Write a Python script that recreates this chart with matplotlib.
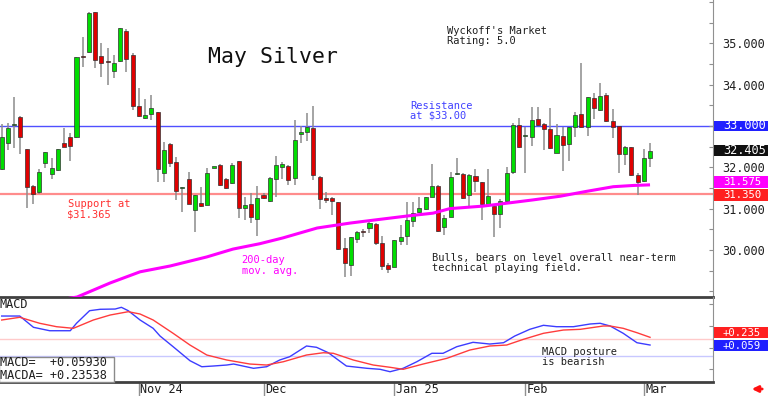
import numpy as np
import matplotlib
matplotlib.use("Agg")
import matplotlib.pyplot as plt
import matplotlib.transforms as mtrans
from matplotlib.patches import Rectangle

# daily OHLC, May silver, early Oct 2024 .. early Mar 2025
opens = [31.96, 32.59, 33.02, 33.22, 32.44, 31.55, 31.40, 32.10, 31.84, 31.93,
         32.59, 32.73, 32.73, 34.67, 34.79, 35.76, 34.69, 34.55, 34.33, 34.57,
         35.30, 34.72, 33.48, 33.19, 33.29, 33.34, 31.86, 32.56, 32.13, 31.50,
         31.72, 30.97, 31.14, 31.09, 31.99, 32.06, 31.72, 31.62, 32.15, 31.02,
         31.11, 30.75, 31.33, 31.18, 31.72, 32.01, 32.03, 31.74, 32.80, 32.85,
         32.95, 31.77, 31.24, 31.26, 31.16, 30.05, 29.64, 30.27, 30.45, 30.53,
         30.63, 30.17, 29.64, 29.59, 30.22, 30.34, 30.70, 30.92, 30.99, 31.28,
         31.55, 30.56, 30.80, 31.83, 31.84, 31.33, 31.79, 31.64, 31.11, 31.06,
         30.87, 31.18, 31.89, 33.02, 32.75, 32.73, 33.17, 33.05, 32.93, 32.35,
         32.76, 32.56, 32.97, 33.29, 32.97, 33.68, 33.39, 33.75, 33.12, 33.00,
         32.32, 32.49, 31.81, 31.67, 32.22]
highs = [33.05, 33.07, 33.70, 33.24, 32.45, 31.56, 31.96, 32.38, 32.22, 32.45,
         32.95, 32.83, 34.68, 35.15, 35.76, 35.77, 35.01, 34.89, 34.72, 35.38,
         35.35, 34.77, 33.92, 33.65, 33.75, 33.35, 32.61, 32.59, 32.25, 31.53,
         31.89, 31.34, 31.52, 31.98, 32.01, 32.07, 31.73, 32.10, 32.16, 31.28,
         31.38, 31.55, 31.38, 31.77, 32.27, 32.13, 32.06, 33.14, 33.00, 33.31,
         33.48, 31.78, 31.40, 31.27, 31.17, 30.29, 30.32, 30.45, 30.51, 30.68,
         30.64, 30.34, 29.69, 30.25, 30.60, 31.16, 31.16, 31.28, 31.29, 32.08,
         31.57, 30.85, 31.89, 32.22, 31.86, 31.84, 31.96, 31.65, 31.96, 31.11,
         31.23, 32.01, 33.07, 33.19, 32.98, 33.46, 33.46, 33.07, 33.43, 33.05,
         32.98, 32.98, 33.34, 34.52, 33.71, 33.80, 34.04, 33.80, 33.41, 33.01,
         32.52, 32.50, 31.86, 32.44, 32.59]
lows = [31.94, 32.42, 32.47, 32.32, 31.02, 31.11, 31.35, 31.98, 31.72, 31.91,
        32.48, 32.15, 32.72, 34.43, 34.77, 34.40, 34.18, 33.99, 34.16, 34.56,
        34.30, 33.39, 33.22, 33.17, 33.14, 31.64, 31.64, 32.01, 31.21, 30.92,
        31.10, 30.43, 31.05, 31.08, 31.98, 31.55, 31.47, 31.60, 30.77, 30.72,
        30.65, 30.34, 31.23, 31.16, 31.28, 31.72, 31.57, 31.57, 32.59, 32.64,
        31.69, 30.99, 31.14, 30.85, 30.00, 29.35, 29.37, 30.17, 30.31, 30.41,
        30.12, 29.52, 29.44, 29.58, 30.12, 30.12, 30.56, 30.89, 30.97, 31.27,
        30.43, 30.36, 30.79, 31.82, 31.23, 31.04, 31.40, 30.72, 31.09, 30.31,
        30.53, 31.17, 31.84, 32.47, 31.86, 32.52, 33.00, 32.42, 32.44, 32.34,
        31.91, 32.15, 32.73, 32.95, 32.76, 33.17, 33.36, 33.10, 32.71, 31.86,
        32.06, 31.79, 31.33, 31.64, 32.01]
closes = [32.73, 32.95, 33.05, 32.73, 31.52, 31.35, 31.89, 32.37, 31.98, 32.44,
          32.49, 32.52, 34.67, 34.66, 35.73, 34.60, 34.52, 34.54, 34.52, 35.37,
          34.62, 33.48, 33.23, 33.26, 33.43, 31.96, 32.42, 32.10, 31.43, 31.52,
          31.11, 31.33, 31.06, 31.86, 32.00, 31.57, 31.50, 32.06, 31.02, 31.09,
          30.80, 31.26, 31.26, 31.74, 32.06, 32.08, 31.69, 32.66, 32.85, 32.97,
          31.81, 31.23, 31.22, 31.18, 30.02, 29.68, 30.31, 30.44, 30.43, 30.65,
          30.17, 29.61, 29.54, 30.24, 30.31, 30.73, 30.89, 31.02, 31.28, 31.55,
          30.46, 30.77, 31.77, 31.84, 31.26, 31.81, 31.67, 31.11, 31.31, 30.87,
          31.18, 31.86, 33.02, 32.49, 32.76, 33.14, 33.02, 32.93, 32.47, 32.78,
          32.54, 32.97, 33.26, 32.97, 33.70, 33.43, 33.72, 33.12, 32.97, 32.32,
          32.49, 31.81, 31.64, 32.22, 32.405]

# 200-day moving average (read at these bar positions)
ma_idx = [0, 12.1, 17.4, 22.2, 27.0, 32.9, 37.1, 41.4, 45.1, 50.6, 55.9, 59.6,
          65.0, 69.2, 71.9, 77.2, 81.5, 85.2, 89.6, 93.9, 98.1, 101.3, 104]
ma_val = [28.55, 28.86, 29.20, 29.47, 29.61, 29.83, 30.02, 30.15, 30.29, 30.53,
          30.65, 30.72, 30.82, 30.89, 31.00, 31.06, 31.14, 31.21, 31.30, 31.42,
          31.53, 31.56, 31.575]

# MACD (blue) and its average MACDA (red)
macd_idx = [0, 2.9, 5.1, 7.7, 11.0, 12.0, 14.1, 15.8, 18.2, 19.2, 20.3, 22.2,
            24.3, 25.4, 27.5, 30.2, 32.1, 33.9, 36.1, 37.2, 40.4, 42.5, 44.6,
            46.2, 48.9, 50.5, 52.4, 55.3, 58.6, 60.7, 62.3, 64.4, 66.6, 69.0,
            70.8, 73.0, 75.6, 78.3, 80.5, 82.3, 84.7, 86.9, 89.0, 91.7, 94.4,
            96.0, 97.6, 99.7, 101.9, 104]
macd_val = [0.722, 0.722, 0.464, 0.386, 0.386, 0.556, 0.844, 0.876, 0.882,
            0.921, 0.844, 0.631, 0.441, 0.265, 0.021, -0.299, -0.437, -0.421,
            -0.398, -0.375, -0.473, -0.437, -0.283, -0.208, 0.037, 0.007,
            -0.117, -0.421, -0.473, -0.496, -0.551, -0.473, -0.322, -0.130,
            -0.130, 0.021, 0.121, 0.082, 0.112, 0.265, 0.418, 0.510, 0.478,
            0.478, 0.540, 0.556, 0.494, 0.327, 0.112, 0.05930]
sig_idx = [0, 2.9, 6.1, 8.8, 11.5, 14.7, 17.4, 20.3, 22.2, 24.3, 27.5, 30.2,
           32.9, 36.1, 39.8, 42.5, 45.2, 48.9, 51.6, 53.2, 56.4, 59.6, 62.3,
           64.4, 67.6, 71.4, 75.1, 78.3, 81.0, 83.7, 86.9, 90.1, 92.8, 96.5,
           97.6, 99.7, 101.9, 104]
sig_val = [0.631, 0.693, 0.556, 0.478, 0.441, 0.631, 0.745, 0.821, 0.768,
           0.631, 0.327, 0.059, -0.169, -0.283, -0.375, -0.398, -0.322, -0.169,
           -0.117, -0.130, -0.283, -0.398, -0.450, -0.496, -0.375, -0.245,
           -0.055, 0.037, 0.059, 0.190, 0.327, 0.402, 0.418, 0.494, 0.494,
           0.441, 0.341, 0.23538]

resistance = 33.00
support = 31.365
month_pos = [22, 42, 63, 84, 103]
month_lab = ["Nov 24", "Dec", "Jan 25", "Feb", "Mar"]

W, H = 768, 396
MONO = "DejaVu Sans Mono"
GREEN, RED = "#00dd00", "#e00000"

fig = plt.figure(figsize=(W / 100, H / 100), dpi=100)
ax = fig.add_axes([0, 99 / H, 713 / W, 297 / H])
ax2 = fig.add_axes([0, 14 / H, 713 / W, 85 / H], sharex=ax)

def ptext(x, y, s, **kw):
    # x, y in pixels from top-left of the image
    fig.text(x / W, 1 - y / H, s, family=MONO, va="center", ha="left", **kw)

# candles
o = np.array(opens); hi = np.array(highs); lo = np.array(lows); c = np.array(closes)
x = np.arange(len(o))
up = c >= o
ax.vlines(x, lo, hi, color="#8c8c8c", lw=1.1, zorder=2)
body_lo = np.minimum(o, c)
body_h = np.maximum(np.abs(c - o), 0.03)
ax.bar(x, body_h, bottom=body_lo, width=0.65, color=np.where(up, GREEN, RED),
       edgecolor="#303030", linewidth=0.5, zorder=3)

ax.axhline(resistance, color="#5050ff", lw=1, zorder=1)
ax.axhline(support, color="#ff8c8c", lw=1.6, zorder=1)
ax.plot(ma_idx, ma_val, color="#ff00ff", lw=2.2, zorder=4, solid_capstyle="butt")

ax.set_xlim(-0.27, 114.1)
ax.set_ylim(28.86, 36.05)

for a in (ax, ax2):
    a.spines["left"].set_visible(False)
    a.spines["top"].set_visible(False)
    a.spines["right"].set_color("#909090")
    a.spines["bottom"].set_color("#404040")
    a.spines["bottom"].set_linewidth(2)
    a.yaxis.tick_right()
    a.tick_params(axis="x", bottom=False, labelbottom=False)
    a.tick_params(axis="y", which="both", direction="in", color="#909090",
                  length=3, width=0.8)
    a.patch.set_alpha(0)

pt = [30, 31, 32, 33, 34, 35]
ax.set_yticks(pt)
ax.set_yticks(np.arange(29.0, 36.01, 0.5), minor=True)
ax.set_yticklabels(["" if v == 33 else f"{v:.3f}" for v in pt], family=MONO,
                   fontsize=8.6, color="#202020")
ax.tick_params(axis="y", pad=7)

# MACD panel
ax2.axhline(0.2, color="#ffcaca", lw=1)
ax2.axhline(-0.2, color="#c8c8ff", lw=1)
ax2.plot(macd_idx, macd_val, color="#3c3cff", lw=1)
ax2.plot(sig_idx, sig_val, color="#ff3c3c", lw=1)
ax2.set_ylim(-0.786, 1.157)
ax2.set_yticks([-0.5, 0, 0.5, 1.0])
ax2.set_yticklabels([])

# month labels in the strip under the MACD panel
bt = mtrans.blended_transform_factory(ax2.transData, ax2.transAxes)
for p, lab in zip(month_pos, month_lab):
    ax2.plot([p, p], [0, -0.165], color="#909090", lw=1, transform=bt, clip_on=False)
    ax2.text(p + 0.25, -0.086, lab, transform=bt, family=MONO, fontsize=8.6,
             va="center", ha="left", color="#202020", clip_on=False)

# value tags on the right
def tag(a, val, s, fc, hpx=10.6, dy=0.0, fs=8.6):
    # dy: pixel shift upward so that stacked tags do not collide
    lo_, hi_ = a.get_ylim()
    hpix = a.get_position().height * H
    k = (hi_ - lo_) / hpix
    h = hpx * k
    yc = val + dy * k
    tr = mtrans.blended_transform_factory(fig.transFigure, a.transData)
    a.add_patch(Rectangle((714 / W, yc - h / 2), 54 / W, h, transform=tr,
                          facecolor=fc, edgecolor="none", clip_on=False, zorder=10))
    a.text(723 / W, yc, s, transform=tr, family=MONO, fontsize=fs, color="white",
           va="center", ha="left", clip_on=False, zorder=11)

tag(ax, resistance, f"{resistance:.3f}", "#2020ff")
tag(ax, closes[-1], f"{closes[-1]:.3f}", "#101010")
tag(ax, ma_val[-1], f"{ma_val[-1]:.3f}", "#ff00ff", hpx=12, dy=2.4, fs=7.6)
tag(ax, support, "31.350", "#ff2020", hpx=12, dy=-1.2, fs=7.6)
tag(ax2, sig_val[-1], f"{sig_val[-1]:+.3f}", "#ff2020", hpx=11, dy=4.8, fs=7.6)
tag(ax2, macd_val[-1], f"{macd_val[-1]:+.3f}", "#2020ff", hpx=11, dy=-0.5, fs=7.6)

# MACD readout box
fig.add_artist(Rectangle((-1 / W, 1 - 382 / H), 115 / W, 25.5 / H,
                         transform=fig.transFigure, facecolor="white",
                         edgecolor="#8a8a8a", lw=1, zorder=5))
ptext(0, 362.7, f"MACD=  {macd_val[-1]:+.5f}", fontsize=8.6, color="#202020", zorder=6)
ptext(0, 375.3, f"MACDA= {sig_val[-1]:+.5f}", fontsize=8.6, color="#202020", zorder=6)
ptext(0, 305, "MACD", fontsize=8.6, color="#202020")

# annotations
fig.text(208 / W, 1 - 63 / H, "May Silver", family=MONO, fontsize=15.5,
         va="baseline", ha="left", color="#101010")
ptext(447, 31, "Wyckoff's Market", fontsize=7.5, color="#202020")
ptext(447, 41.5, "Rating: 5.0", fontsize=7.5, color="#202020")
ptext(410.5, 106, "Resistance", fontsize=7.5, color="#4040ff")
ptext(410.5, 116, "at $33.00", fontsize=7.5, color="#4040ff")
ptext(67.5, 204, "Support at", fontsize=7.5, color="#ff3030")
ptext(67.5, 214, "$31.365", fontsize=7.5, color="#ff3030")
ptext(241.5, 260, "200-day", fontsize=7.5, color="#ff00ff")
ptext(241.5, 270.5, "mov. avg.", fontsize=7.5, color="#ff00ff")
ptext(432.5, 258.3, "Bulls, bears on level overall near-term", fontsize=7.5, color="#202020")
ptext(432.5, 268.3, "technical playing field.", fontsize=7.5, color="#202020")
ptext(541.5, 352.3, "MACD posture", fontsize=7.5, color="#202020")
ptext(541.5, 362.3, "is bearish", fontsize=7.5, color="#202020")

ax.annotate("", xy=(749 / W, 1 - 389 / H), xytext=(765 / W, 1 - 389 / H),
            xycoords="figure fraction", textcoords="figure fraction",
            arrowprops=dict(arrowstyle="-|>", color="#ff1010", lw=2, mutation_scale=9))

fig.savefig("out.png", dpi=100)
